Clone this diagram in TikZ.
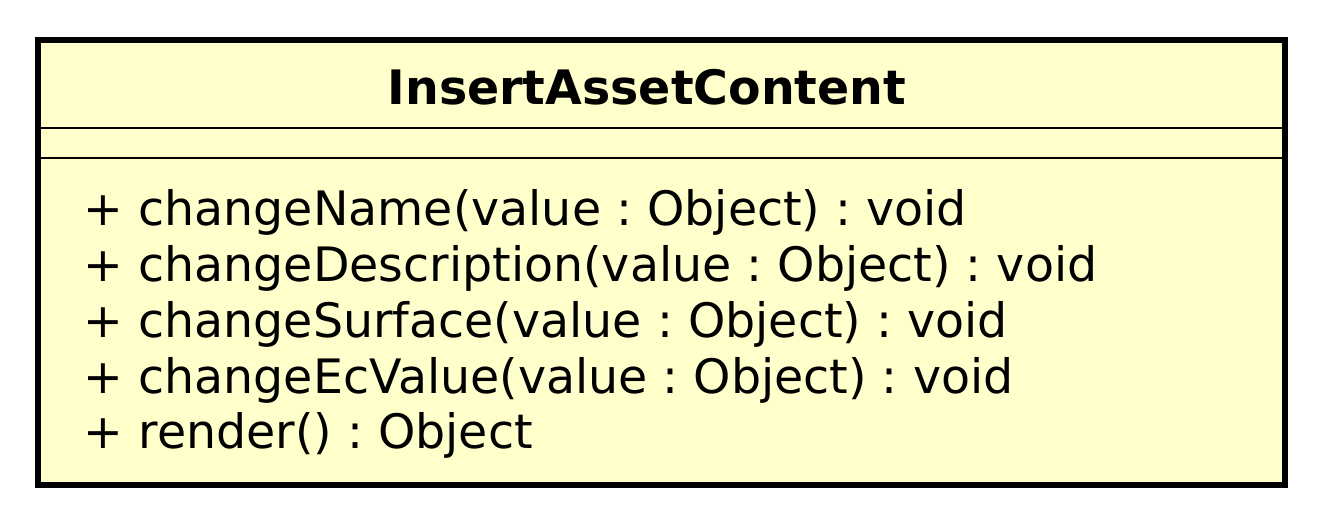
\documentclass[tikz,border=0pt]{standalone}
\usepackage{fontspec}
\setmainfont{DejaVu Sans}
\usetikzlibrary{positioning,calc}
\definecolor{umlfill}{HTML}{FFFFCC}
\frenchspacing

\begin{document}
\begin{tikzpicture}[
    font=\fontsize{13.5}{16}\selectfont,
    classbox/.style={draw=black, fill=umlfill, line width=1.5pt, minimum width=12.47cm, minimum height=4.45cm, inner sep=0pt},
    sepline/.style={line width=0.7pt},
    member/.style={anchor=base west, inner sep=0pt}
  ]
  \useasboundingbox (0,0) rectangle (13.24,-5.23);
  % class box with its two compartment lines
  \node[classbox] (cls) at (6.615,-2.625) {};
  \draw[sepline] ($(cls.west)+(0,1.345)$) -- ($(cls.east)+(0,1.345)$);
  \draw[sepline] ($(cls.west)+(0,1.045)$) -- ($(cls.east)+(0,1.045)$);
  % title
  \node[anchor=base, inner sep=0pt, font=\fontsize{13.5}{16}\selectfont\bfseries] (title) at (6.47,-1.05) {InsertAssetContent};
  % operations
  \node[member] (op1) at (0.83,-2.26) {+ changeName(value : Object) : void};
  \node[member] (op2) at (0.83,-2.82) {+ changeDescription(value : Object) : void};
  \node[member] (op3) at (0.83,-3.38) {+ changeSurface(value : Object) : void};
  \node[member] (op4) at (0.83,-3.94) {+ changeEcValue(value : Object) : void};
  \node[member] (op5) at (0.83,-4.49) {+ render() : Object};
\end{tikzpicture}
\end{document}
